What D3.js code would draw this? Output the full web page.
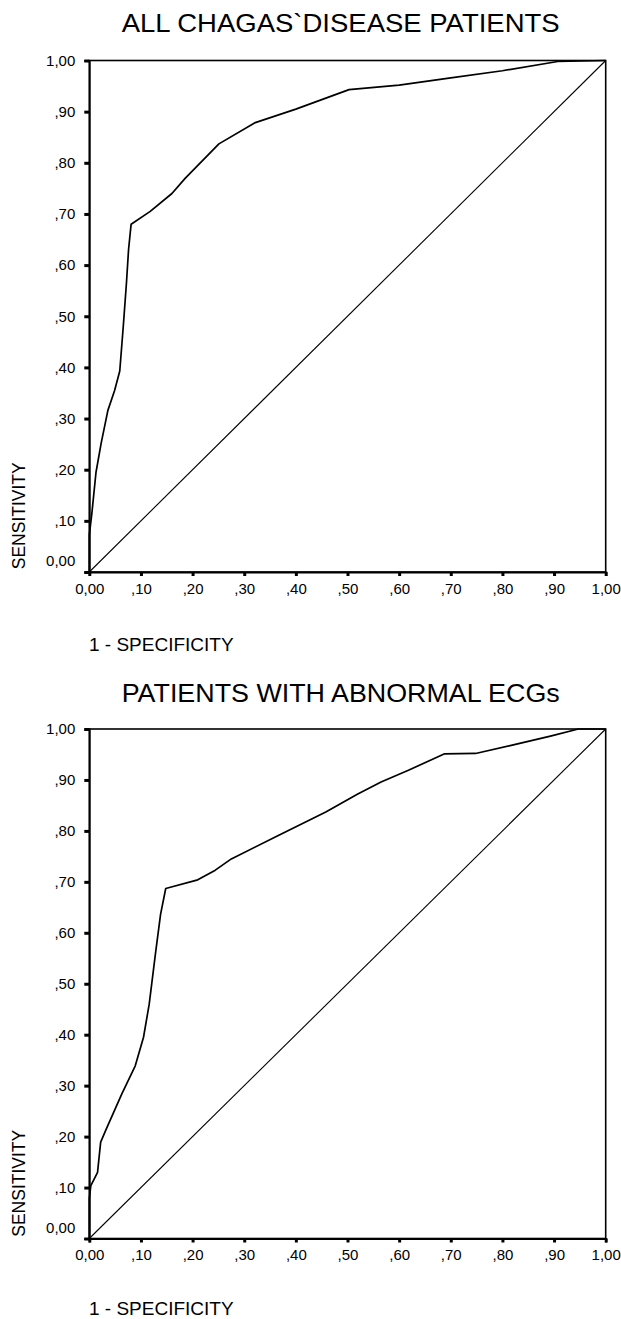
<!DOCTYPE html>
<html>
<head>
<meta charset="utf-8">
<script src="https://cdn.jsdelivr.net/npm/d3@7"></script>
<style>
  body { margin: 0; background: #fff; }
  text { font-family: "Liberation Sans", Arial, sans-serif; fill: #000; }
</style>
</head>
<body>
<div id="root"></div>
<script>
// tick values and their SPSS style labels (comma decimals)
var tickValues = [0, 0.1, 0.2, 0.3, 0.4, 0.5, 0.6, 0.7, 0.8, 0.9, 1];
var tickLabels = ['0,00', ',10', ',20', ',30', ',40', ',50', ',60', ',70', ',80', ',90', '1,00'];

var titles = ['ALL CHAGAS`DISEASE PATIENTS', 'PATIENTS WITH ABNORMAL ECGs'];
var yTitle = 'SENSITIVITY';
var xTitle = '1 - SPECIFICITY';

// ROC curve, all patients: 1 - specificity / sensitivity
var allFpr = [0, 0, 0.005, 0.013, 0.023, 0.036, 0.049, 0.059, 0.066, 0.072, 0.076, 0.081, 0.118, 0.16, 0.186, 0.251, 0.320, 0.40, 0.503, 0.60, 0.70, 0.80, 0.907, 1];
var allTpr = [0, 0.072, 0.115, 0.195, 0.252, 0.316, 0.355, 0.393, 0.483, 0.566, 0.630, 0.680, 0.705, 0.740, 0.770, 0.837, 0.878, 0.905, 0.943, 0.952, 0.966, 0.980, 0.998, 1];

// ROC curve, patients with abnormal ECGs
var ecgFpr = [0, 0, 0.003, 0.016, 0.022, 0.033, 0.063, 0.089, 0.105, 0.116, 0.128, 0.138, 0.148, 0.21, 0.244, 0.275, 0.366, 0.458, 0.519, 0.565, 0.618, 0.687, 0.748, 0.817, 0.893, 0.947, 1];
var ecgTpr = [0, 0.078, 0.104, 0.130, 0.189, 0.215, 0.284, 0.339, 0.395, 0.460, 0.558, 0.636, 0.687, 0.704, 0.723, 0.745, 0.791, 0.837, 0.872, 0.896, 0.919, 0.951, 0.952, 0.968, 0.986, 1.0, 1];

var w = 621, h = 1319;
var svg = d3.select('#root').append('svg')
            .attr('width', w)
            .attr('height', h);

function drawPanel(title, fpr, tpr, top, bottom, titleY, xTitleY) {
  var xScale = d3.scaleLinear().domain([0, 1]).range([89.3, 605.7]);
  var yScale = d3.scaleLinear().domain([0, 1]).range([bottom, top]);
  var g = svg.append('g');

  g.append('text')
    .attr('x', 121.7)
    .attr('y', titleY)
    .attr('textLength', title.length > 27 ? 431.6 : 438)
    .attr('lengthAdjust', 'spacingAndGlyphs')
    .style('font-size', '26.5px')
    .text(title);

  // frame box (top and right sides)
  g.append('rect')
    .attr('x', xScale(0))
    .attr('y', yScale(1))
    .attr('width', xScale(1) - xScale(0))
    .attr('height', yScale(0) - yScale(1))
    .attr('fill', 'none')
    .attr('stroke', '#000')
    .attr('stroke-width', 1.6);

  // chance diagonal
  g.append('line')
    .attr('x1', xScale(0)).attr('y1', yScale(0))
    .attr('x2', xScale(1)).attr('y2', yScale(1))
    .attr('stroke', '#000')
    .attr('stroke-width', 1.1);

  var line = d3.line()
    .x(function(d) { return xScale(d[0]); })
    .y(function(d) { return yScale(d[1]); });

  g.append('path')
    .datum(d3.zip(fpr, tpr))
    .attr('d', line)
    .attr('fill', 'none')
    .attr('stroke', '#000')
    .attr('stroke-width', 1.7)
    .attr('stroke-linejoin', 'round');

  var fmt = function(d) { return tickLabels[Math.round(d * 10)]; };

  var yAxis = g.append('g')
    .attr('transform', 'translate(' + xScale(0) + ',0)')
    .call(d3.axisLeft(yScale).tickValues(tickValues).tickFormat(fmt).tickSize(5).tickPadding(9));

  var xAxis = g.append('g')
    .attr('transform', 'translate(0,' + yScale(0) + ')')
    .call(d3.axisBottom(xScale).tickValues(tickValues).tickFormat(fmt).tickSize(4).tickPadding(7));

  [yAxis, xAxis].forEach(function(ax) {
    ax.select('.domain').attr('stroke-width', 1.8);
    ax.selectAll('.tick line').attr('stroke-width', 3);
    ax.selectAll('.tick text')
      .style('font-size', '15px')
      .style('font-family', '"Liberation Sans", Arial, sans-serif');
  });

  // SPSS puts the 0,00 label on the y axis a bit above its tick
  yAxis.selectAll('.tick text')
    .filter(function(d) { return d === 0; })
    .attr('y', -11);

  g.append('text')
    .attr('transform', 'translate(25,' + ((top + bottom) / 2 + 199.5) + ') rotate(-90)')
    .attr('text-anchor', 'middle')
    .style('font-size', '17.5px')
    .text(yTitle);

  g.append('text')
    .attr('x', 89)
    .attr('y', xTitleY)
    .style('font-size', '19px')
    .text(xTitle);
}

drawPanel(titles[0], allFpr, allTpr, 60.5, 572, 31.7, 650.5);
drawPanel(titles[1], ecgFpr, ecgTpr, 729, 1238.5, 701.7, 1314.5);
</script>
</body>
</html>
